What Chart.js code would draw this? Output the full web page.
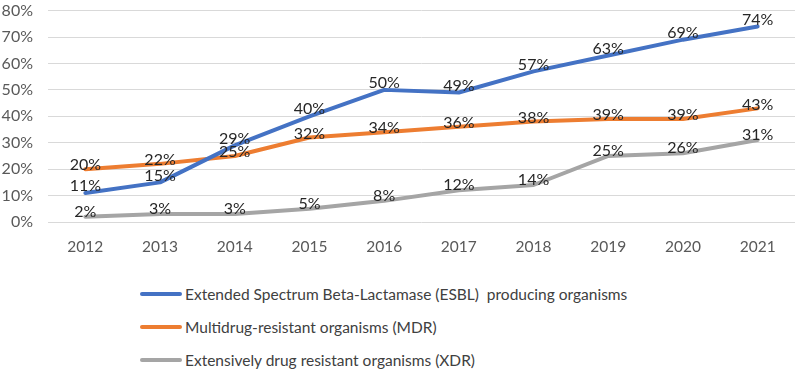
<!DOCTYPE html>
<html>
<head>
<meta charset="utf-8">
<script src="https://cdn.jsdelivr.net/npm/chart.js@4.4.1/dist/chart.umd.min.js"></script>
<style>
  body { margin: 0; background: #fff; font-family: Lato, "Open Sans", sans-serif; overflow: hidden; }
  #wrap { position: relative; width: 797px; height: 371px; overflow: hidden; }
  #chartBox { position: absolute; left: 0; top: -14px; width: 797px; height: 276px; }
  #legend { position: absolute; left: 140px; top: 277px; }
  .item { display: flex; align-items: center; height: 33px; font-size: 15.5px; color: #404040; }
  .swatch { width: 42px; height: 4px; border-radius: 2px; margin-right: 3px; }
</style>
</head>
<body>
<div id="wrap">
  <div id="chartBox"><canvas id="chart"></canvas></div>
  <div id="legend"></div>
</div>
<script>
// data
const years = ['2012', '2013', '2014', '2015', '2016', '2017', '2018', '2019', '2020', '2021'];
const esbl = [11, 15, 29, 40, 50, 49, 57, 63, 69, 74];
const mdr = [20, 22, 25, 32, 34, 36, 38, 39, 39, 43];
const xdr = [2, 3, 3, 5, 8, 12, 14, 25, 26, 31];
const seriesNames = [
    'Extended Spectrum Beta-Lactamase (ESBL)  producing organisms',
    'Multidrug-resistant organisms (MDR)',
    'Extensively drug resistant organisms (XDR)'
];
const seriesColors = ['#4472C4', '#ED7D31', '#A5A5A5'];
const labelShift = [-7, -4, -5];

const font = "Lato, 'Open Sans', sans-serif";

// value labels near each point
const pointLabels = {
    id: 'pointLabels',
    afterDatasetsDraw(chart) {
        const ctx = chart.ctx;
        ctx.save();
        ctx.font = '16px ' + font;
        ctx.fillStyle = '#262626';
        ctx.textAlign = 'center';
        ctx.textBaseline = 'middle';
        chart.data.datasets.forEach((ds, i) => {
            chart.getDatasetMeta(i).data.forEach((pt, j) => {
                ctx.fillText(ds.data[j] + '%', pt.x, pt.y + labelShift[i]);
            });
        });
        ctx.restore();
    }
};

const chart = new Chart(document.getElementById('chart'), {
    type: 'line',
    data: {
        labels: years,
        datasets: [esbl, mdr, xdr].map((d, i) => ({
            label: seriesNames[i],
            data: d,
            borderColor: seriesColors[i],
            backgroundColor: seriesColors[i],
            borderWidth: 4,
            pointRadius: 0,
            tension: 0,
            borderCapStyle: 'round',
            borderJoinStyle: 'round'
        }))
    },
    options: {
        responsive: true,
        maintainAspectRatio: false,
        animation: false,
        layout: { padding: { top: 0, right: 2, left: 0, bottom: 0 } },
        plugins: { legend: { display: false }, tooltip: { enabled: false } },
        scales: {
            x: {
                offset: true,
                grid: { display: false },
                border: { display: false },
                ticks: { color: '#595959', font: { family: font, size: 15.5 }, padding: 8 },
                afterFit: s => { s.height = 40; }
            },
            y: {
                min: 0,
                max: 80,
                grid: { color: '#d9d9d9', lineWidth: 1, drawTicks: false, tickLength: 0 },
                border: { display: false },
                ticks: {
                    stepSize: 10,
                    color: '#595959',
                    padding: 15,
                    font: { family: font, size: 16 },
                    callback: v => v + '%'
                },
                afterFit: s => { s.width = 48; }
            }
        }
    },
    plugins: [pointLabels]
});

// legend listed one under another, as in the picture
document.getElementById('legend').innerHTML = chart.data.datasets.map(ds =>
    `<div class="item"><span class="swatch" style="background:${ds.borderColor}"></span>${ds.label.replace(/  /g, ' &nbsp;')}</div>`
).join('');
</script>
</body>
</html>
